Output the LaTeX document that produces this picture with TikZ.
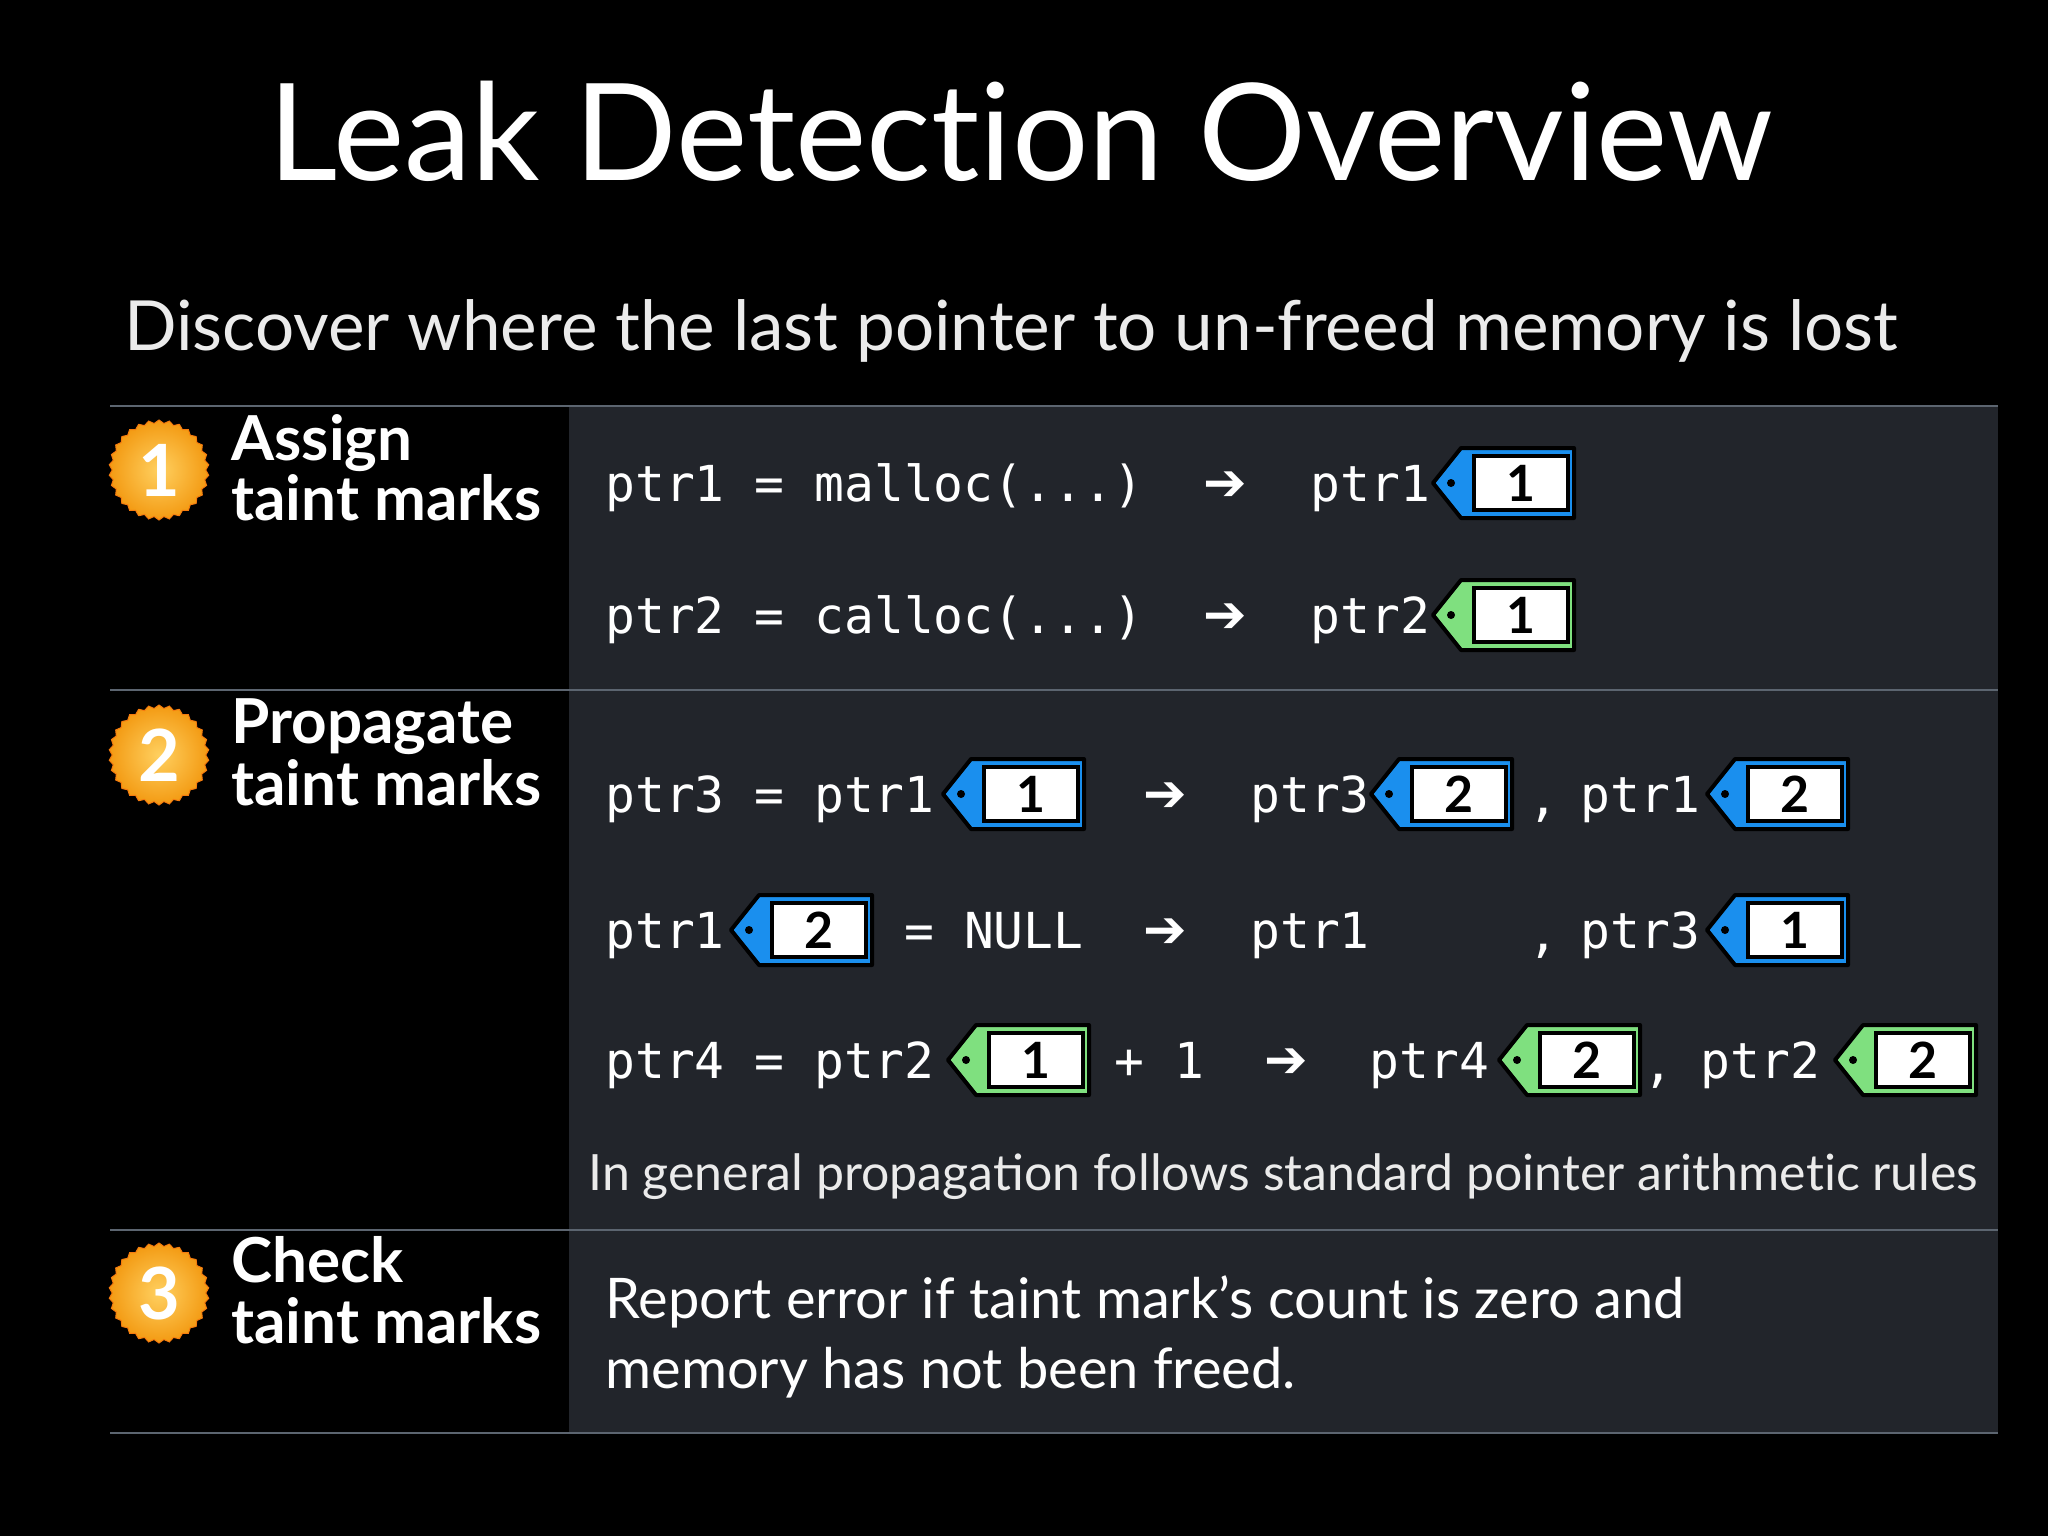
\documentclass[tikz,border=0pt]{standalone}
\usepackage{fontspec}
\setmainfont{Lato}
\newfontfamily\codefont{DejaVu Sans Mono}
\newfontfamily\symfont{DejaVu Sans}
\usetikzlibrary{shapes.geometric}
\definecolor{panel}{HTML}{22252B}
\definecolor{sepline}{HTML}{5C6570}
\definecolor{tagblue}{HTML}{1A8FEE}
\definecolor{taggreen}{HTML}{7FE07F}
\definecolor{badgein}{HTML}{FFD060}
\definecolor{badgeout}{HTML}{F39A12}
\newcommand{\nl}{\kern0pt }
\tikzset{
  code/.style={anchor=base west,inner sep=0,text=white,font=\codefont\fontsize{24.8}{28}\selectfont},
  label/.style={anchor=base west,inner sep=0,text=white,font=\bfseries\fontsize{31}{34}\selectfont},
  arr/.style={anchor=base west,inner sep=0,text=white,font=\symfont\bfseries\fontsize{26}{30}\selectfont},
  badge/.style={star,star points=30,star point ratio=1.07,minimum size=50pt,inner sep=0,
    draw=badgeout!80!red,line width=0.5pt,inner color=badgein,outer color=badgeout,
    text=white,font=\bfseries\fontsize{36}{38}\selectfont},
  sep/.style={draw=sepline,line width=1.2pt},
}
\newcommand{\tagmark}[5]{% name, x, y(center), color, number
  \fill[#4,draw=black,line width=2pt,line join=round] (#2,#3) -- ++(28,-35) -- ++(113,0) -- ++(0,70) -- ++(-113,0) -- cycle;
  \fill[black] (#2+18,#3) circle (4);
  \node[fill=white,draw=black,line width=2pt,minimum width=47pt,minimum height=27pt,inner sep=0,
    font=\bfseries\fontsize{25}{27}\selectfont,text=black] (#1) at (#2+88,#3) {#5};
}
\begin{document}
\begin{tikzpicture}[x=0.5pt,y=-0.5pt]
\useasboundingbox (0,0) rectangle (2048,1536);
\fill[black] (0,0) rectangle (2048,1536);
\fill[panel] (569,406) rectangle (1998,1433);
\foreach \yy in {406,690,1230,1433} \draw[sep] (110,\yy) -- (1998,\yy);

\node[anchor=base,text=white,inner sep=0,font=\fontsize{67.5}{78}\selectfont] (title) at (1021,180) {Leak Detect\nl ion Overview};
\node[anchor=base west,text=white!92!black,inner sep=0,font=\fontsize{34.6}{40}\selectfont] (sub) at (124,350) {Discover where the last pointer to un-freed memory is lost};

\node[badge] (b1) at (159,470) {1};
\node[badge] (b2) at (159,755) {2};
\node[badge] (b3) at (159,1293) {3};
\node[label] (l1a) at (231,460) {Assign};
\node[label] (l1b) at (231,520) {taint marks};
\node[label] (l2a) at (231,743) {Propagate};
\node[label] (l2b) at (231,805) {taint marks};
\node[label] (l3a) at (231,1282) {Check};
\node[label] (l3b) at (231,1343) {taint marks};

% row 1
\node[code] (r1a) at (605,501) {ptr1 = malloc(...)};
\node[arr] (r1b) at (1203,500) {➔};
\node[code] (r1c) at (1310,501) {ptr1};
\tagmark{t11}{1433}{483}{tagblue}{1}
% row 2
\node[code] (r2a) at (605,633) {ptr2 = calloc(...)};
\node[arr] (r2b) at (1203,632) {➔};
\node[code] (r2c) at (1310,633) {ptr2};
\tagmark{t21}{1433}{615}{taggreen}{1}
% row 3
\node[code] (r3a) at (605,812) {ptr3 = ptr1};
\tagmark{t31}{943}{794}{tagblue}{1}
\node[arr] (r3b) at (1143,811) {➔};
\node[code] (r3c) at (1250,812) {ptr3};
\tagmark{t32}{1371}{794}{tagblue}{2}
\node[code] (r3d) at (1528,815) {,};
\node[code] (r3e) at (1580,812) {ptr1};
\tagmark{t33}{1707}{794}{tagblue}{2}
% row 4
\node[code] (r4a) at (605,948) {ptr1};
\tagmark{t41}{731}{930}{tagblue}{2}
\node[code] (r4b) at (904,948) {= NULL};
\node[arr] (r4c) at (1143,947) {➔};
\node[code] (r4d) at (1250,948) {ptr1};
\node[code] (r4e) at (1528,951) {,};
\node[code] (r4f) at (1580,948) {ptr3};
\tagmark{t42}{1707}{930}{tagblue}{1}
% row 5
\node[code] (r5a) at (605,1078) {ptr4 = ptr2};
\tagmark{t51}{948}{1060}{taggreen}{1}
\node[code] (r5b) at (1114,1078) {+ 1};
\node[arr] (r5c) at (1264,1077) {➔};
\node[code] (r5d) at (1369,1078) {ptr4};
\tagmark{t52}{1499}{1060}{taggreen}{2}
\node[code] (r5e) at (1643,1081) {,};
\node[code] (r5f) at (1700,1078) {ptr2};
\tagmark{t53}{1835}{1060}{taggreen}{2}

\node[anchor=base west,inner sep=0,text=white!92!black,font=\fontsize{25}{28}\selectfont] (note) at (588,1190) {In general propagation follows standard pointer arithmet\nl ic rules};

\node[anchor=base west,inner sep=0,text=white,font=\fontsize{28}{32}\selectfont] (rep1) at (605,1318) {Report error if taint mark’s count is zero and};
\node[anchor=base west,inner sep=0,text=white,font=\fontsize{28}{32}\selectfont] (rep2) at (605,1388) {memory has not been freed.};
\end{tikzpicture}
\end{document}
